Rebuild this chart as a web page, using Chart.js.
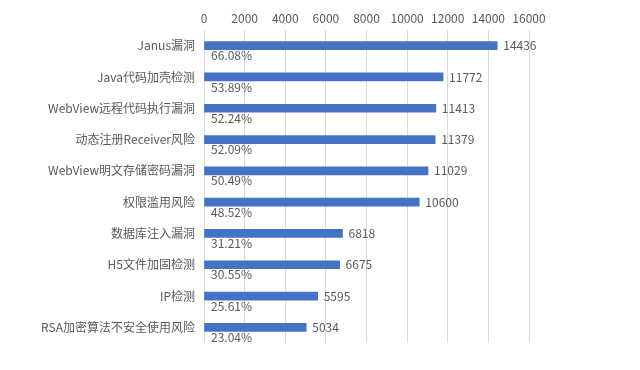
<!DOCTYPE html>
<html>
<head>
<meta charset="utf-8">
<script src="https://cdn.jsdelivr.net/npm/chart.js@4"></script>
<style>
  html, body { margin: 0; padding: 0; background: #fff; }
  #wrap { width: 640px; height: 370px; }
</style>
</head>
<body>
<div id="wrap"><canvas id="c"></canvas></div>
<script>
// 数据
var categories = ['Janus漏洞', 'Java代码加壳检测', 'WebView远程代码执行漏洞', '动态注册Receiver风险',
  'WebView明文存储密码漏洞', '权限滥用风险', '数据库注入漏洞', 'H5文件加固检测', 'IP检测', 'RSA加密算法不安全使用风险'];
var counts = [14436, 11772, 11413, 11379, 11029, 10600, 6818, 6675, 5595, 5034];
var percents = ['66.08%', '53.89%', '52.24%', '52.09%', '50.49%', '48.52%', '31.21%', '30.55%', '25.61%', '23.04%'];

var FONT = '"Noto Sans CJK SC", "Noto Sans", sans-serif';

// 数值 + 百分比标签
var labelPlugin = {
  id: 'barLabels',
  afterDatasetsDraw: function (chart) {
    var ctx = chart.ctx;
    var meta = chart.getDatasetMeta(0);
    var xs = chart.scales.x;
    ctx.save();
    ctx.font = '12px ' + FONT;
    ctx.fillStyle = '#595959';
    ctx.textBaseline = 'middle';
    meta.data.forEach(function (bar, i) {
      ctx.textAlign = 'left';
      ctx.fillText(String(counts[i]), bar.x + 6, bar.y);
      ctx.fillText(percents[i], xs.getPixelForValue(0) + 7, bar.y + 10);
    });
    ctx.restore();
  }
};

new Chart(document.getElementById('c').getContext('2d'), {
  type: 'bar',
  data: {
    labels: categories,
    datasets: [{
      data: counts,
      backgroundColor: '#4472C4',
      borderWidth: 0,
      barThickness: 8
    }]
  },
  plugins: [labelPlugin],
  options: {
    indexAxis: 'y',
    responsive: true,
    maintainAspectRatio: false,
    animation: false,
    layout: { padding: { left: 0, right: 111, top: 0, bottom: 27 } },
    plugins: { legend: { display: false }, tooltip: { enabled: false } },
    scales: {
      x: {
        position: 'top',
        min: 0,
        max: 16000,
        ticks: {
          stepSize: 2000, maxRotation: 0, autoSkip: false,
          color: '#595959', font: { family: FONT, size: 12 }, padding: 4,
          callback: function (v) { return String(v); }
        },
        grid: { color: '#d9d9d9', drawTicks: false },
        border: { display: false },
        afterFit: function (s) { s.height = 30; }
      },
      y: {
        ticks: { color: '#595959', font: { family: FONT, size: 12 }, padding: 9 },
        grid: { display: false, drawTicks: false },
        border: { display: false },
        afterFit: function (s) { s.width = 204; }
      }
    }
  }
});
</script>
</body>
</html>
